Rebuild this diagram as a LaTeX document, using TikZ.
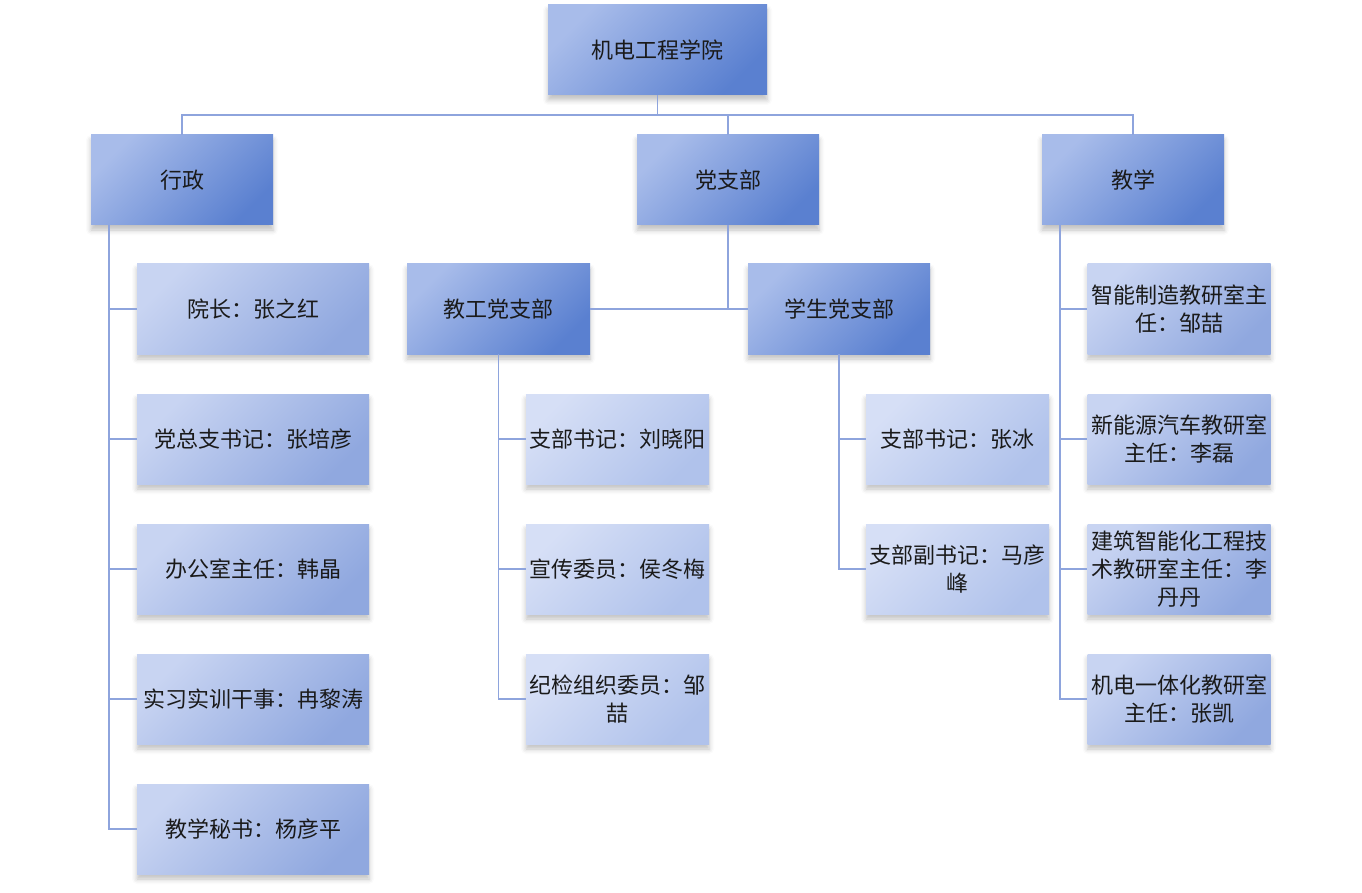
\documentclass[tikz,border=0pt]{standalone}
\usepackage{fontspec}
\newfontfamily\cjk{Noto Sans CJK SC}
\usetikzlibrary{shadows.blur}
\definecolor{topA}{HTML}{A8BCEA}
\definecolor{topB}{HTML}{5A80D0}
\definecolor{leafA}{HTML}{C8D4F2}
\definecolor{leafB}{HTML}{90A8DF}
\definecolor{paleA}{HTML}{D6DFF6}
\definecolor{paleB}{HTML}{B0C2EB}
\definecolor{conn}{HTML}{8EA4DD}
\definecolor{txt}{HTML}{1A1A1A}
\begin{document}
\begin{tikzpicture}[x=1pt,y=-1pt,
  basebox/.style={rectangle, inner sep=0pt, align=center,
    font=\cjk\fontsize{22}{28}\selectfont, text=txt,
    blur shadow={shadow xshift=0pt, shadow yshift=-5pt, shadow blur radius=5pt, shadow opacity=25}},
  darkbox/.style={basebox, left color=topA, right color=topB, shading angle=45,
    minimum width=182pt, minimum height=90pt},
  leafbox/.style={basebox, left color=leafA, right color=leafB, shading angle=45,
    minimum width=183pt, minimum height=90pt},
  widebox/.style={leafbox, minimum width=232pt},
  palebox/.style={basebox, left color=paleA, right color=paleB, shading angle=45,
    minimum width=183pt, minimum height=90pt},
  link/.style={draw=conn, line width=1.8pt}
]
\useasboundingbox (0,0) rectangle (1362,893);

% root and level 1
\node[darkbox, minimum width=219pt] (root) at (657.5,50) {机电工程学院};
\node[darkbox] (xz)  at (182,180)  {行政};
\node[darkbox] (dzb) at (728,180)  {党支部};
\node[darkbox] (jx)  at (1133,180) {教学};
\coordinate (bus) at (0,115);

% party branches
\node[darkbox, minimum width=183pt] (jg) at (498.5,309) {教工党支部};
\node[darkbox] (xs) at (839,309) {学生党支部};

% admin leaves
\node[widebox] (a1) at (253,309) {院长：张之红};
\node[widebox] (a2) at (253,439) {党总支书记：张培彦};
\node[widebox] (a3) at (253,569) {办公室主任：韩晶};
\node[widebox] (a4) at (253,699) {实习实训干事：冉黎涛};
\node[widebox] (a5) at (253,829) {教学秘书：杨彦平};

% staff party leaves
\node[palebox] (g1) at (617.5,439) {支部书记：刘晓阳};
\node[palebox] (g2) at (617.5,569) {宣传委员：侯冬梅};
\node[palebox] (g3) at (617.5,699) {纪检组织委员：邹\\喆};

% student party leaves
\node[palebox] (s1) at (957.5,439) {支部书记：张冰};
\node[palebox] (s2) at (957.5,569) {支部副书记：马彦\\峰};

% teaching leaves
\node[leafbox] (t1) at (1179,309) {智能制造教研室主\\任：邹喆};
\node[leafbox] (t2) at (1179,439) {新能源汽车教研室\\主任：李磊};
\node[leafbox] (t3) at (1179,569) {建筑智能化工程技\\术教研室主任：李\\丹丹};
\node[leafbox] (t4) at (1179,699) {机电一体化教研室\\主任：张凯};

% connectors: root to level 1
\begin{scope}[on background layer/.style={}]
\draw[link] (root.south) -- (root.south |- bus);
\draw[link] (xz.north) -- (xz.north |- bus) -| (jx.north);
\draw[link] (dzb.north) -- (dzb.north |- bus);

% admin spine
\coordinate (xzs) at ([xshift=18pt]xz.south west);
\draw[link] (xzs) |- (a5.west);
\foreach \n in {a1,a2,a3,a4} \draw[link] (xzs |- \n.west) -- (\n.west);

% party
\draw[link] (dzb.south) -- (dzb.south |- jg.east);
\draw[link] (jg.east) -- (xs.west);
\draw[link] (jg.south) |- (g3.west);
\foreach \n in {g1,g2} \draw[link] (jg.south |- \n.west) -- (\n.west);
\draw[link] (xs.south) |- (s2.west);
\draw[link] (xs.south |- s1.west) -- (s1.west);

% teaching spine
\coordinate (jxs) at ([xshift=18pt]jx.south west);
\draw[link] (jxs) |- (t4.west);
\foreach \n in {t1,t2,t3} \draw[link] (jxs |- \n.west) -- (\n.west);
\end{scope}
\end{tikzpicture}
\end{document}
